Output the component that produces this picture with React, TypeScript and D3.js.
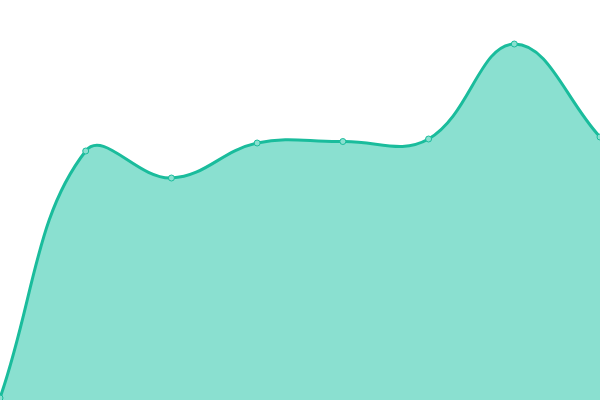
import * as d3 from 'd3';

const steps = [0, 1, 2, 3, 4, 5, 6, 7];
const values = [2, 249, 222, 257, 258.5, 261, 356, 263];

const width = 600;
const height = 400;
const tension = 0.4;

type Pt = { x: number; y: number };

// spline with distance-weighted control points (tension 0.4)
function splinePath(pts: Pt[], closeTo?: number) {
  const p = d3.path();
  const cps = pts.map((cur, i) => {
    const prev = pts[Math.max(i - 1, 0)];
    const next = pts[Math.min(i + 1, pts.length - 1)];
    const d01 = Math.hypot(cur.x - prev.x, cur.y - prev.y);
    const d12 = Math.hypot(next.x - cur.x, next.y - cur.y);
    let s01 = d01 / (d01 + d12);
    let s12 = d12 / (d01 + d12);
    if (isNaN(s01)) s01 = 0;
    if (isNaN(s12)) s12 = 0;
    const fa = tension * s01;
    const fb = tension * s12;
    return {
      prev: { x: cur.x - fa * (next.x - prev.x), y: cur.y - fa * (next.y - prev.y) },
      next: { x: cur.x + fb * (next.x - prev.x), y: cur.y + fb * (next.y - prev.y) },
    };
  });
  p.moveTo(pts[0].x, pts[0].y);
  for (let i = 1; i < pts.length; i++) {
    const a = cps[i - 1].next;
    const b = cps[i].prev;
    p.bezierCurveTo(
      Math.max(0, Math.min(width, a.x)),
      Math.max(0, Math.min(height, a.y)),
      Math.max(0, Math.min(width, b.x)),
      Math.max(0, Math.min(height, b.y)),
      pts[i].x,
      pts[i].y
    );
  }
  if (closeTo !== undefined) {
    p.lineTo(pts[pts.length - 1].x, closeTo);
    p.lineTo(pts[0].x, closeTo);
    p.closePath();
  }
  return p.toString();
}

export default function App() {
  const xScale = d3.scaleLinear().domain([0, steps.length - 1]).range([0, width]);
  const yScale = d3.scaleLinear().domain([0, 400]).range([height, 0]);

  const pts = values.map((v, i) => ({ x: xScale(steps[i]), y: yScale(v) }));

  return (
    <svg
      width={width}
      height={height}
      style={{ position: 'fixed', left: 0, top: 0, display: 'block' }}
    >
      <path d={splinePath(pts, yScale(0))} fill="#8ae0d0" />
      <path d={splinePath(pts)} fill="none" stroke="#1abc9c" strokeWidth={3} />
      {pts.map((p, i) => (
        <circle
          key={i}
          cx={p.x}
          cy={p.y}
          r={3}
          fill="#8ae0d0"
          stroke="#1abc9c"
          strokeWidth={1}
        />
      ))}
    </svg>
  );
}
